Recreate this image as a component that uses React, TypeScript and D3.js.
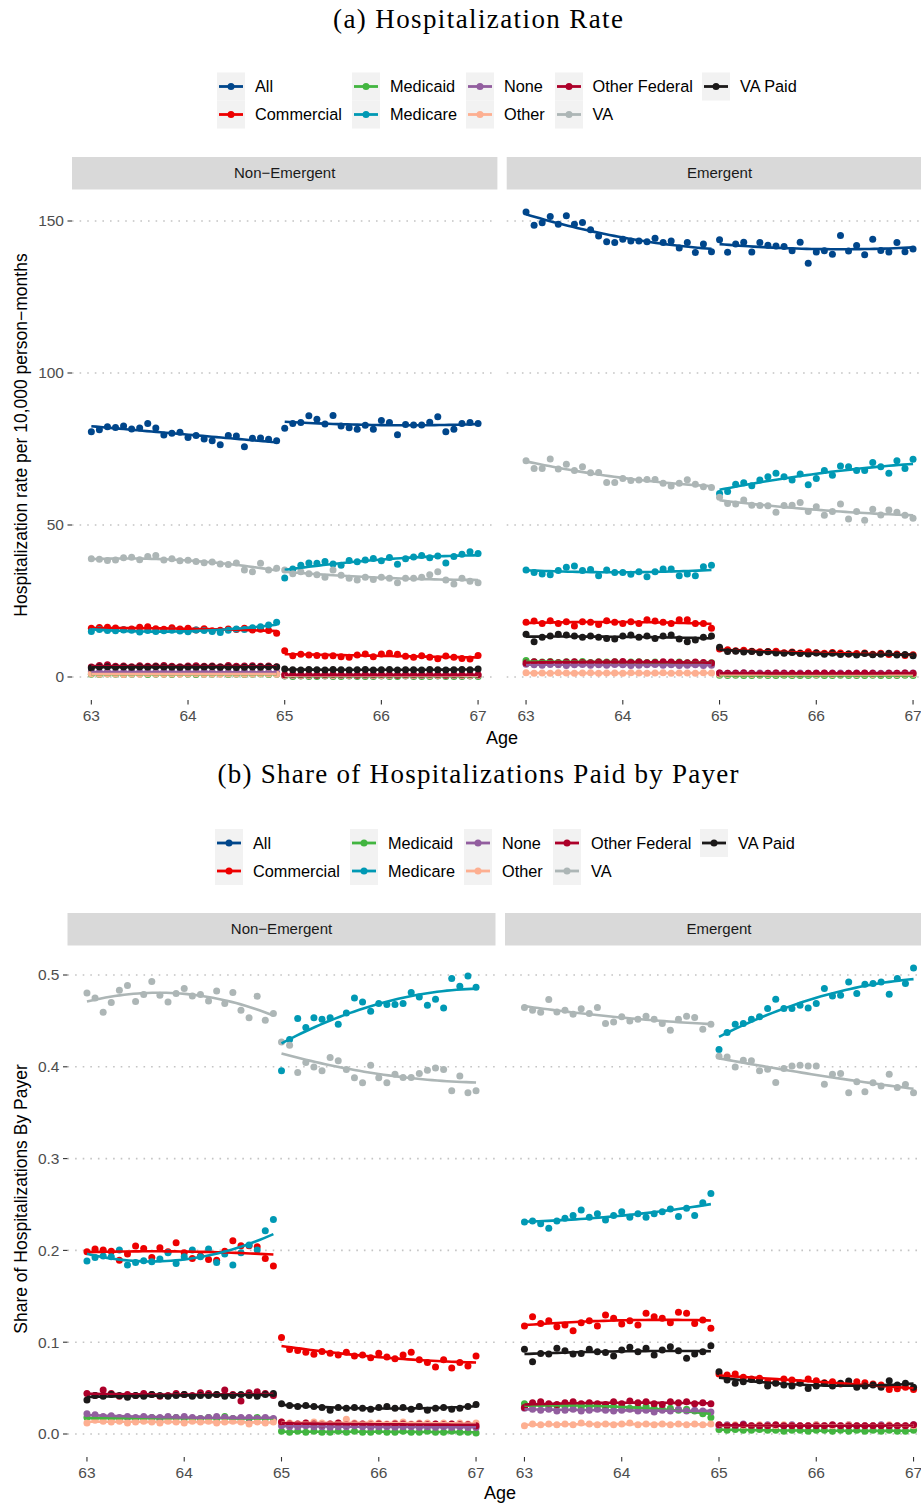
import React from 'react';
import * as d3 from 'd3';

// ---------- categories / ticks ----------
const payers = ['All', 'Commercial', 'Medicaid', 'Medicare', 'None', 'Other', 'Other Federal', 'VA', 'VA Paid'];
const payerColors = ['#00468B', '#ED0000', '#42B540', '#0099B4', '#925E9F', '#FDAF91', '#AD002A', '#ADB6B6', '#1B1919'];
const facets = ['Non\u2212Emergent', 'Emergent'];
const ageTicks = [63, 64, 65, 66, 67];
const rateTicks = [0, 50, 100, 150];
const shareTicks = [0, 0.1, 0.2, 0.3, 0.4, 0.5];
const agesPre = d3.range(24).map((m) => 63 + m / 12);
const agesPost = d3.range(25).map((m) => 65 + m / 12);

// ---------- (a) hospitalization rate, Non-Emergent (24 pre-65 months, then 25 post) ----------
const rNeAll = [80.7,81.3,82.3,82.1,82.6,81.6,81.9,83.4,81.9,79.6,80.2,80.5,78.8,79.4,78.3,77.7,76.4,79.4,79.3,75.7,78.5,78.6,78.2,77.7,
  81.8,83.4,83.7,85.9,84.8,83.2,86.0,82.6,82.0,81.5,82.8,81.5,84.4,83.7,79.7,83.1,82.9,82.9,83.8,85.6,80.7,81.5,83.4,83.7,83.4];
const rNeCom = [16.0,16.3,16.4,16.1,15.6,15.8,16.4,16.5,15.9,15.7,16.2,15.8,16.0,15.5,15.9,15.2,15.4,15.8,15.6,16.0,15.5,15.7,15.3,14.4,
  8.65,7.0,7.45,7.2,7.1,6.9,7.0,6.7,6.5,7.2,7.6,6.7,7.6,7.8,7.45,6.8,6.5,7.0,6.5,6.0,6.9,6.5,6.1,5.9,7.1];
const rNeMcd = [0.9,0.8,1.0,0.9,0.8,0.9,1.0,0.8,0.9,0.9,0.8,1.0,0.9,0.8,0.9,0.9,1.0,0.8,0.9,0.8,0.9,1.0,0.8,0.9,
  0.3,0.2,0.3,0.2,0.2,0.3,0.2,0.2,0.3,0.2,0.2,0.2,0.3,0.2,0.2,0.3,0.2,0.2,0.2,0.3,0.2,0.2,0.2,0.3,0.2];
const rNeMcr = [15.0,15.6,15.3,15.2,15.5,15.4,14.8,15.3,15.0,15.2,15.4,15.1,14.9,15.5,15.3,15.0,14.6,15.4,15.8,15.6,16.2,16.5,17.1,18.0,
  32.6,35.5,36.8,37.5,37.4,38.0,37.2,36.8,38.3,37.9,38.5,39.0,38.2,39.3,37.1,38.9,39.5,40.0,39.2,39.8,37.5,39.6,40.4,41.2,40.6];
const rNeNone = [1.7,1.6,1.7,1.5,1.6,1.7,1.6,1.6,1.5,1.7,1.6,1.6,1.5,1.6,1.7,1.6,1.5,1.6,1.6,1.7,1.5,1.6,1.6,1.5,
  0.4,0.5,0.4,0.4,0.5,0.4,0.4,0.5,0.4,0.4,0.5,0.4,0.4,0.4,0.5,0.4,0.4,0.5,0.4,0.4,0.4,0.5,0.4,0.4,0.5];
const rNeOth = [1.1,0.9,1.0,1.0,0.8,1.0,0.9,1.1,1.0,0.9,1.0,0.9,1.0,1.1,0.9,1.0,0.9,1.0,1.0,0.9,1.0,1.1,1.0,0.9,
  0.5,0.6,0.5,0.5,0.6,0.5,0.5,0.6,0.5,0.5,0.6,0.5,0.5,0.5,0.6,0.5,0.5,0.6,0.5,0.5,0.5,0.6,0.5,0.5,0.6];
const rNeOF = [3.3,3.8,4.0,3.5,3.6,3.4,3.7,3.5,3.6,3.8,3.5,3.4,3.6,3.7,3.5,3.6,3.4,3.8,3.5,3.6,3.7,3.5,3.6,3.4,
  0.7,0.8,0.7,0.7,0.6,0.7,0.8,0.7,0.7,0.6,0.7,0.7,0.8,0.7,0.6,0.7,0.7,0.7,0.8,0.7,0.6,0.7,0.7,0.8,0.7];
const rNeVA = [38.9,38.7,38.3,38.5,39.2,39.4,38.6,39.6,40.0,38.5,38.9,38.2,38.4,38.0,37.6,37.8,37.2,37.0,37.5,35.2,34.6,37.4,35.2,35.8,
  35.2,34.0,34.6,34.0,33.6,32.8,35.2,33.5,32.5,31.9,32.8,32.1,32.8,32.5,31.0,32.5,32.5,32.8,33.6,34.6,31.9,30.6,32.5,31.5,31.0];
const rNeVAP = [3.0,3.3,3.4,3.2,3.3,3.1,3.3,3.2,3.4,3.3,3.2,3.1,3.3,3.2,3.3,3.4,3.2,3.3,3.1,3.2,3.3,3.2,3.4,3.3,
  2.6,2.4,2.3,2.5,2.4,2.3,2.5,2.4,2.3,2.4,2.5,2.3,2.4,2.5,2.3,2.4,2.4,2.3,2.5,2.4,2.3,2.4,2.5,2.4,2.6];

// ---------- (a) hospitalization rate, Emergent ----------
const rEmAll = [153.0,148.6,149.4,151.5,148.9,151.7,148.9,149.5,147.1,145.1,143.2,142.9,144.0,143.4,143.4,143.2,144.3,142.9,143.4,141.1,142.9,139.6,142.4,139.9,
  143.8,139.7,142.4,143.0,139.8,142.9,142.0,141.8,141.6,140.2,143.0,136.1,139.8,140.2,139.1,145.2,140.1,141.9,138.9,144.0,140.3,139.8,142.9,139.9,140.8];
const rEmCom = [18.0,18.4,17.6,18.5,17.6,18.2,16.8,18.2,18.0,17.3,18.5,18.0,17.6,18.2,17.6,18.8,18.4,18.0,17.6,18.8,18.8,17.6,17.6,16.0,
  9.2,9.0,8.6,8.8,8.5,8.3,8.4,8.5,8.0,8.2,7.9,8.3,8.0,7.8,8.1,7.9,7.6,7.7,7.9,7.5,7.8,7.4,7.6,7.1,7.3];
const rEmMcd = [5.4,5.0,4.9,5.1,4.8,5.0,4.9,5.1,4.8,5.0,4.9,5.0,4.7,4.9,5.0,4.8,4.9,4.7,4.8,4.9,4.7,4.8,4.6,4.7,
  0.6,0.5,0.6,0.5,0.5,0.6,0.5,0.5,0.6,0.5,0.5,0.5,0.6,0.5,0.5,0.6,0.5,0.5,0.5,0.6,0.5,0.5,0.5,0.6,0.5];
const rEmMcr = [35.2,34.4,33.9,33.6,35.0,36.1,36.5,35.0,35.4,33.3,35.2,34.4,34.4,33.8,34.6,33.0,34.6,35.5,35.5,33.3,33.9,33.3,36.3,36.8,
  60.4,61.0,63.4,63.9,62.9,64.8,65.9,67.0,65.9,64.8,66.8,63.2,65.3,67.9,66.4,69.4,69.2,67.9,67.9,70.6,69.2,67.0,71.1,68.6,71.6];
const rEmNone = [4.2,4.0,3.9,4.1,4.0,3.8,4.0,4.1,3.9,4.0,3.9,4.1,4.0,3.8,3.9,4.0,4.1,3.9,4.0,3.8,3.9,4.0,3.8,3.9,
  1.3,1.2,1.3,1.4,1.2,1.3,1.2,1.3,1.3,1.2,1.3,1.2,1.3,1.2,1.3,1.3,1.2,1.3,1.2,1.3,1.2,1.3,1.2,1.3,1.3];
const rEmOth = [1.4,1.2,1.3,1.2,1.4,1.3,1.2,1.3,1.4,1.2,1.3,1.3,1.2,1.4,1.3,1.2,1.3,1.4,1.2,1.3,1.3,1.2,1.4,1.3,
  0.9,0.8,0.9,0.9,0.8,0.9,0.8,0.9,0.9,0.8,0.9,0.9,0.8,0.9,0.8,0.9,0.9,0.8,0.9,0.8,0.9,0.9,0.8,0.9,0.9];
const rEmOF = [4.6,5.0,4.8,4.9,4.7,4.9,5.0,4.8,4.7,4.9,4.8,5.0,5.1,4.8,4.9,4.7,4.8,5.0,4.9,4.8,4.7,4.9,4.8,4.6,
  1.3,1.2,1.2,1.3,1.2,1.1,1.2,1.3,1.2,1.2,1.1,1.2,1.2,1.3,1.2,1.1,1.2,1.2,1.3,1.2,1.1,1.2,1.2,1.3,1.2];
const rEmVA = [71.1,68.6,68.6,71.7,68.4,70.0,67.9,69.2,67.2,67.3,64.0,64.0,65.3,64.6,64.8,65.0,65.0,63.7,62.8,63.7,64.9,63.4,62.6,62.3,
  59.1,57.1,56.9,58.2,56.5,56.4,56.3,54.2,56.4,56.5,57.4,54.4,56.0,53.2,54.4,56.9,52.0,54.4,51.6,55.2,53.3,54.9,54.2,53.2,52.2];
const rEmVAP = [14.1,11.6,13.1,13.5,14.1,13.8,13.5,13.1,13.5,13.1,12.7,12.5,13.5,13.8,13.1,13.5,12.7,13.5,13.8,12.5,11.6,12.2,13.1,13.5,
  9.8,8.4,8.5,8.2,8.4,8.0,8.3,7.9,7.8,8.1,7.7,7.6,7.9,7.5,7.8,7.4,7.6,7.2,7.7,7.3,7.5,7.8,7.2,7.4,7.0];

// ---------- (b) share paid by payer, Non-Emergent ----------
const sNeCom = [0.1985,0.2014,0.2003,0.1992,0.1894,0.1960,0.2047,0.2021,0.1924,0.2029,0.1985,0.2083,0.1974,0.1913,0.1938,0.1902,0.1894,0.1992,0.2105,0.2050,0.2050,0.2039,0.1913,0.1829,
  0.105,0.092,0.091,0.089,0.087,0.090,0.088,0.086,0.089,0.085,0.086,0.083,0.088,0.084,0.082,0.086,0.089,0.081,0.078,0.073,0.081,0.072,0.078,0.074,0.085];
const sNeMcd = [0.018,0.017,0.018,0.017,0.016,0.018,0.017,0.017,0.018,0.016,0.017,0.018,0.017,0.016,0.017,0.018,0.017,0.019,0.017,0.016,0.017,0.018,0.017,0.016,
  0.003,0.002,0.003,0.002,0.003,0.002,0.002,0.003,0.002,0.003,0.002,0.002,0.003,0.002,0.002,0.003,0.002,0.002,0.003,0.002,0.002,0.003,0.002,0.002,0.001];
const sNeMcr = [0.1884,0.1924,0.1938,0.1931,0.2003,0.1840,0.1869,0.1887,0.1876,0.1905,0.1974,0.1858,0.1931,0.2003,0.1931,0.2014,0.1869,0.1960,0.1840,0.1974,0.2058,0.2003,0.2213,0.2337,
  0.3956,0.4297,0.4526,0.4428,0.4533,0.4518,0.4533,0.4464,0.4587,0.4750,0.4707,0.4605,0.4689,0.4678,0.4678,0.4689,0.4809,0.4761,0.4671,0.4736,0.4641,0.4961,0.4877,0.4990,0.4867];
const sNeNone = [0.022,0.021,0.019,0.020,0.018,0.019,0.018,0.019,0.018,0.018,0.019,0.018,0.019,0.018,0.017,0.018,0.019,0.018,0.017,0.018,0.018,0.017,0.018,0.017,
  0.009,0.008,0.008,0.009,0.008,0.008,0.007,0.008,0.008,0.009,0.008,0.007,0.008,0.008,0.007,0.008,0.008,0.007,0.008,0.007,0.008,0.007,0.008,0.007,0.007];
const sNeOth = [0.012,0.015,0.014,0.013,0.014,0.012,0.013,0.014,0.013,0.012,0.014,0.013,0.012,0.014,0.013,0.014,0.012,0.013,0.014,0.013,0.011,0.013,0.012,0.013,
  0.013,0.012,0.011,0.012,0.013,0.012,0.011,0.012,0.016,0.012,0.011,0.012,0.012,0.011,0.012,0.013,0.011,0.012,0.012,0.011,0.012,0.011,0.012,0.011,0.012];
const sNeOF = [0.044,0.042,0.048,0.044,0.041,0.043,0.042,0.044,0.043,0.041,0.042,0.044,0.043,0.042,0.045,0.044,0.043,0.048,0.043,0.036,0.045,0.046,0.044,0.042,
  0.013,0.011,0.011,0.012,0.011,0.010,0.011,0.012,0.010,0.011,0.011,0.010,0.011,0.010,0.011,0.011,0.010,0.011,0.010,0.011,0.010,0.011,0.010,0.010,0.009];
const sNeVA = [0.4805,0.4750,0.4594,0.4700,0.4834,0.4885,0.4711,0.4787,0.4928,0.4780,0.4707,0.4798,0.4852,0.4772,0.4787,0.4718,0.4826,0.4689,0.4809,0.4616,0.4533,0.4769,0.4507,0.4580,
  0.4271,0.4235,0.3938,0.4047,0.3999,0.3956,0.4101,0.4065,0.3970,0.3880,0.3825,0.4017,0.3880,0.3825,0.3920,0.3883,0.3883,0.3927,0.3963,0.3988,0.3970,0.3738,0.3901,0.3716,0.3738];
const sNeVAP = [0.037,0.042,0.041,0.043,0.042,0.040,0.042,0.041,0.043,0.042,0.041,0.042,0.043,0.041,0.042,0.042,0.043,0.041,0.042,0.043,0.042,0.041,0.043,0.044,
  0.033,0.031,0.030,0.031,0.030,0.029,0.026,0.029,0.028,0.029,0.028,0.027,0.029,0.030,0.028,0.029,0.027,0.030,0.026,0.028,0.029,0.027,0.028,0.030,0.032];

// ---------- (b) share paid by payer, Emergent ----------
const sEmCom = [0.1176,0.1277,0.1205,0.1234,0.1168,0.1187,0.1125,0.1212,0.1234,0.1176,0.1296,0.1260,0.1198,0.1234,0.1187,0.1314,0.1277,0.1260,0.1212,0.1325,0.1314,0.1205,0.1241,0.1151,
  0.0653,0.0642,0.0653,0.0617,0.0599,0.0606,0.0570,0.0559,0.0599,0.0588,0.0559,0.0599,0.0581,0.0559,0.0570,0.0544,0.0552,0.0570,0.0559,0.0544,0.0533,0.0486,0.0493,0.0508,0.0486];
const sEmMcd = [0.033,0.031,0.032,0.030,0.031,0.030,0.031,0.029,0.030,0.031,0.029,0.030,0.029,0.028,0.029,0.030,0.028,0.027,0.028,0.026,0.027,0.025,0.022,0.018,
  0.005,0.004,0.005,0.004,0.004,0.005,0.004,0.004,0.003,0.004,0.004,0.003,0.004,0.004,0.003,0.004,0.003,0.004,0.003,0.004,0.003,0.004,0.003,0.003,0.004];
const sEmMcr = [0.231,0.232,0.229,0.224,0.232,0.235,0.238,0.244,0.236,0.240,0.233,0.238,0.242,0.236,0.240,0.236,0.240,0.242,0.245,0.237,0.246,0.238,0.252,0.262,
  0.4188,0.4373,0.4464,0.4471,0.4518,0.4544,0.4635,0.4736,0.4635,0.4635,0.4671,0.4641,0.4689,0.4852,0.4772,0.4780,0.4925,0.4798,0.4899,0.4907,0.4925,0.4790,0.4961,0.4907,0.5077];
const sEmNone = [0.028,0.027,0.026,0.027,0.025,0.026,0.027,0.025,0.026,0.027,0.026,0.025,0.026,0.027,0.025,0.026,0.024,0.026,0.025,0.027,0.025,0.026,0.025,0.024,
  0.009,0.010,0.009,0.011,0.009,0.009,0.010,0.009,0.009,0.010,0.009,0.009,0.010,0.009,0.009,0.009,0.010,0.009,0.009,0.009,0.010,0.009,0.009,0.009,0.010];
const sEmOth = [0.009,0.011,0.010,0.011,0.010,0.011,0.010,0.012,0.011,0.010,0.011,0.010,0.011,0.012,0.010,0.011,0.010,0.011,0.010,0.011,0.010,0.011,0.010,0.011,
  0.010,0.009,0.010,0.009,0.009,0.010,0.009,0.009,0.010,0.009,0.009,0.009,0.010,0.009,0.009,0.009,0.010,0.009,0.009,0.009,0.009,0.010,0.009,0.009,0.009];
const sEmOF = [0.029,0.034,0.035,0.033,0.032,0.034,0.035,0.033,0.034,0.033,0.032,0.035,0.033,0.036,0.034,0.035,0.033,0.032,0.035,0.034,0.035,0.033,0.034,0.033,
  0.010,0.009,0.009,0.010,0.009,0.009,0.009,0.010,0.009,0.009,0.009,0.009,0.009,0.009,0.010,0.009,0.009,0.009,0.009,0.009,0.009,0.009,0.009,0.009,0.010];
const sEmVA = [0.4645,0.4616,0.4594,0.4732,0.4598,0.4616,0.4573,0.4631,0.4580,0.4645,0.4471,0.4489,0.4544,0.4500,0.4518,0.4551,0.4518,0.4471,0.4398,0.4518,0.4551,0.4537,0.4409,0.4464,
  0.4115,0.4108,0.3999,0.4072,0.4065,0.3956,0.3974,0.3829,0.3981,0.4010,0.4017,0.4010,0.4010,0.3811,0.3920,0.3927,0.3716,0.3836,0.3727,0.3825,0.3792,0.3920,0.3774,0.3807,0.3716];
const sEmVAP = [0.0922,0.0787,0.0878,0.0871,0.0933,0.0907,0.0871,0.0878,0.0922,0.0896,0.0889,0.0849,0.0915,0.0944,0.0896,0.0933,0.0860,0.0915,0.0951,0.0907,0.0824,0.0871,0.0896,0.0962,
  0.0679,0.0588,0.0552,0.0570,0.0595,0.0581,0.0523,0.0552,0.0533,0.0523,0.0552,0.0497,0.0523,0.0552,0.0523,0.0552,0.0577,0.0508,0.0523,0.0533,0.0508,0.0581,0.0533,0.0552,0.0508];

// tables built from the arrays above
const rateData: Record<string, Record<string, number[]>> = {
  [facets[0]]: { 'All': rNeAll, 'Commercial': rNeCom, 'Medicaid': rNeMcd, 'Medicare': rNeMcr, 'None': rNeNone, 'Other': rNeOth, 'Other Federal': rNeOF, 'VA': rNeVA, 'VA Paid': rNeVAP },
  [facets[1]]: { 'All': rEmAll, 'Commercial': rEmCom, 'Medicaid': rEmMcd, 'Medicare': rEmMcr, 'None': rEmNone, 'Other': rEmOth, 'Other Federal': rEmOF, 'VA': rEmVA, 'VA Paid': rEmVAP },
};
const shareData: Record<string, Record<string, number[]>> = {
  [facets[0]]: { 'Commercial': sNeCom, 'Medicaid': sNeMcd, 'Medicare': sNeMcr, 'None': sNeNone, 'Other': sNeOth, 'Other Federal': sNeOF, 'VA': sNeVA, 'VA Paid': sNeVAP },
  [facets[1]]: { 'Commercial': sEmCom, 'Medicaid': sEmMcd, 'Medicare': sEmMcr, 'None': sEmNone, 'Other': sEmOth, 'Other Federal': sEmOF, 'VA': sEmVA, 'VA Paid': sEmVAP },
};

// ---------- helpers ----------
function quadFit(xs: number[], ys: number[]) {
  const n = xs.length;
  const mx = d3.mean(xs) as number;
  let S1 = 0, S2 = 0, S3 = 0, S4 = 0, T0 = 0, T1 = 0, T2 = 0;
  xs.forEach((x, i) => {
    const t = x - mx, y = ys[i];
    S1 += t; S2 += t * t; S3 += t * t * t; S4 += t * t * t * t;
    T0 += y; T1 += t * y; T2 += t * t * y;
  });
  const M = [[n, S1, S2], [S1, S2, S3], [S2, S3, S4]];
  const R = [T0, T1, T2];
  const det3 = (m: number[][]) =>
    m[0][0] * (m[1][1] * m[2][2] - m[1][2] * m[2][1]) -
    m[0][1] * (m[1][0] * m[2][2] - m[1][2] * m[2][0]) +
    m[0][2] * (m[1][0] * m[2][1] - m[1][1] * m[2][0]);
  const D = det3(M);
  const rep = (c: number) => M.map((row, i) => row.map((v, j) => (j === c ? R[i] : v)));
  const a = det3(rep(0)) / D, b = det3(rep(1)) / D, c = det3(rep(2)) / D;
  return (x: number) => { const t = x - mx; return a + b * t + c * t * t; };
}

const SANS = 'Liberation Sans, Arial, Helvetica, sans-serif';
const SERIF = 'Liberation Serif, Times New Roman, serif';

type Cfg = {
  title: string; titleCx: number; titleBase: number; titleLen: number;
  legendTop: number; legendKeyXs: number[]; legendTextXs: number[];
  stripTop: number; stripBottom: number; plotTop: number; plotBottom: number;
  panelXs: [number, number][];
  yDomain: [number, number]; yRange: [number, number]; yTicks: number[]; yFmt: (d: number) => string;
  yTitle: string; yTitleX: number; yTitleCy: number; xTitleCx: number; xTitleBase: number;
  data: Record<string, Record<string, number[]>>;
};

function FacetChart({ cfg }: { cfg: Cfg }) {
  const y = d3.scaleLinear().domain(cfg.yDomain).range(cfg.yRange);
  const keyW = 28, keyH = 28;
  const dotR = 3.5;
  const line = d3.line<[number, number]>().x((d) => d[0]).y((d) => d[1]).curve(d3.curveLinear);

  return (
    <g>
      <text x={cfg.titleCx} y={cfg.titleBase} textAnchor="middle" fontFamily={SERIF} fontSize={27}
        textLength={cfg.titleLen} lengthAdjust="spacing" fill="#000">{cfg.title}</text>

      {/* legend */}
      {payers.map((p, i) => {
        const col = Math.floor(i / 2), row = i % 2;
        const kx = cfg.legendKeyXs[col], ky = cfg.legendTop + row * keyH;
        const cy = ky + keyH / 2;
        return (
          <g key={p}>
            <rect x={kx} y={ky} width={keyW} height={keyH} fill="#f2f2f2" />
            <line x1={kx + 2} x2={kx + keyW - 2} y1={cy} y2={cy} stroke={payerColors[i]} strokeWidth={2.8} />
            <circle cx={kx + keyW / 2} cy={cy} r={dotR} fill={payerColors[i]} />
            <text x={cfg.legendTextXs[col]} y={cy + 5.7} fontFamily={SANS} fontSize={16.3} fill="#000">{p}</text>
          </g>
        );
      })}

      {/* axis titles */}
      <text transform={`translate(${cfg.yTitleX},${cfg.yTitleCy}) rotate(-90)`} textAnchor="middle"
        fontFamily={SANS} fontSize={17.5} fill="#000">{cfg.yTitle}</text>
      <text x={cfg.xTitleCx} y={cfg.xTitleBase} textAnchor="middle" fontFamily={SANS} fontSize={18} fill="#000">Age</text>

      {facets.map((f, fi) => {
        const [x0, x1] = cfg.panelXs[fi];
        const x = d3.scaleLinear().domain([62.8, 67.2]).range([x0, x1]);
        const series = cfg.data[f];
        const present = payers.map((p, i) => ({ p, i, vals: series[p] })).filter((s) => s.vals);
        return (
          <g key={f}>
            {/* strip */}
            <rect x={x0} y={cfg.stripTop} width={x1 - x0} height={cfg.stripBottom - cfg.stripTop} fill="#d9d9d9" />
            <text x={(x0 + x1) / 2} y={(cfg.stripTop + cfg.stripBottom) / 2 + 5.2} textAnchor="middle"
              fontFamily={SANS} fontSize={15} fill="#1a1a1a">{f}</text>
            {/* grid */}
            {cfg.yTicks.map((t) => (
              <line key={t} x1={x0} x2={x1} y1={y(t)} y2={y(t)} stroke="#c4c4c4" strokeWidth={1.6}
                strokeDasharray="1.6,6" />
            ))}
            {/* y axis on first panel */}
            {fi === 0 && cfg.yTicks.map((t) => (
              <g key={'yt' + t}>
                <line x1={x0 - 4.5} x2={x0} y1={y(t)} y2={y(t)} stroke="#333" strokeWidth={1.1} />
                <text x={x0 - 8} y={y(t) + 5.3} textAnchor="end" fontFamily={SANS} fontSize={15.5} fill="#4d4d4d">{cfg.yFmt(t)}</text>
              </g>
            ))}
            {/* x axis */}
            {ageTicks.map((t) => (
              <g key={'xt' + t}>
                <line x1={x(t)} x2={x(t)} y1={cfg.plotBottom} y2={cfg.plotBottom + 4.5} stroke="#333" strokeWidth={1.1} />
                <text x={x(t)} y={cfg.plotBottom + 20.5} textAnchor="middle" fontFamily={SANS} fontSize={15.5} fill="#4d4d4d">{t}</text>
              </g>
            ))}
            {/* points */}
            {present.map((s) => (
              <g key={'pt' + s.p} fill={payerColors[s.i]}>
                {s.vals.map((v, k) => {
                  const age = k < 24 ? agesPre[k] : agesPost[k - 24];
                  return <circle key={k} cx={x(age)} cy={y(v)} r={dotR} />;
                })}
              </g>
            ))}
            {/* smooth fits, one per side of 65 */}
            {present.map((s) => {
              const segs = [
                { ages: agesPre, vals: s.vals.slice(0, 24) },
                { ages: agesPost, vals: s.vals.slice(24, 49) },
              ];
              return (
                <g key={'ln' + s.p}>
                  {segs.map((seg, si) => {
                    const f2 = quadFit(seg.ages, seg.vals);
                    const a0 = seg.ages[0], a1 = seg.ages[seg.ages.length - 1];
                    const pts: [number, number][] = d3.range(41).map((j) => {
                      const a = a0 + ((a1 - a0) * j) / 40;
                      return [x(a), y(f2(a))];
                    });
                    return <path key={si} d={line(pts) || ''} fill="none" stroke={payerColors[s.i]} strokeWidth={2.6} />;
                  })}
                </g>
              );
            })}
          </g>
        );
      })}
    </g>
  );
}

const cfgA: Cfg = {
  title: '(a) Hospitalization Rate', titleCx: 478, titleBase: 28, titleLen: 290,
  legendTop: 72.5, legendKeyXs: [217, 352, 466, 555, 702], legendTextXs: [255, 390, 504, 592.5, 740],
  stripTop: 157, stripBottom: 189.5, plotTop: 190, plotBottom: 700,
  panelXs: [[72, 497.4], [506.7, 932.4]],
  yDomain: [0, 150], yRange: [677, 221], yTicks: rateTicks, yFmt: (d) => String(d),
  yTitle: 'Hospitalization rate per 10,000 person\u2212months', yTitleX: 27, yTitleCy: 435,
  xTitleCx: 502, xTitleBase: 744, data: rateData,
};

const cfgB: Cfg = {
  title: '(b) Share of Hospitalizations Paid by Payer', titleCx: 478, titleBase: 783, titleLen: 521,
  legendTop: 829, legendKeyXs: [215, 350, 464, 553, 700], legendTextXs: [253, 388, 502, 591, 738],
  stripTop: 913, stripBottom: 945.5, plotTop: 946, plotBottom: 1457,
  panelXs: [[67.5, 495.5], [505, 933]],
  yDomain: [0, 0.5], yRange: [1434, 975], yTicks: shareTicks, yFmt: d3.format('.1f'),
  yTitle: 'Share of Hospitalizations By Payer', yTitleX: 27, yTitleCy: 1199,
  xTitleCx: 500, xTitleBase: 1499, data: shareData,
};

export default function App() {
  return (
    <svg width={921} height={1503} style={{ position: 'absolute', left: 0, top: 0, background: '#fff' }}>
      <rect x={0} y={0} width={921} height={1503} fill="#fff" />
      <FacetChart cfg={cfgA} />
      <FacetChart cfg={cfgB} />
    </svg>
  );
}
